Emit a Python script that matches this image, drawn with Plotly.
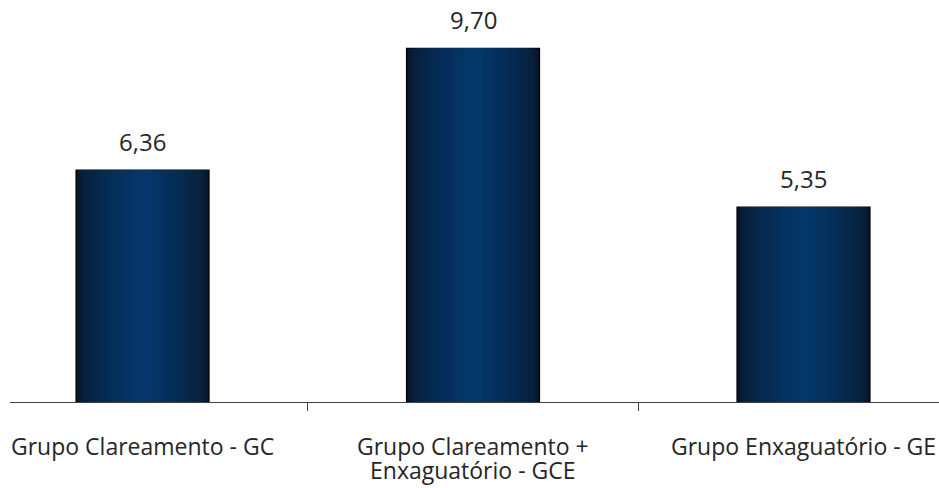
import plotly.graph_objects as go

categories = ["Grupo Clareamento - GC", "Grupo Clareamento +<br>Enxaguatório - GCE", "Grupo Enxaguatório - GE"]
values = [6.36, 9.70, 5.35]
value_labels = [f"{v:.2f}".replace(".", ",") for v in values]

FONT = "Open Sans"
TEXT_COLOR = "#262626"

edge = (8, 22, 40)
center = (4, 56, 108)
N = 24
bar_width = 0.4024

fig = go.Figure()
for j in range(N):
    f = j / N
    t = min(1.0, f ** 0.55)
    col = tuple(round(edge[k] + (center[k] - edge[k]) * t) for k in range(3))
    fig.add_trace(go.Bar(
        x=categories, y=values,
        width=bar_width * (1 - f),
        marker=dict(color="rgb(%d,%d,%d)" % col,
                    line=dict(color="#000000", width=1.2 if j == 0 else 0)),
        hoverinfo="skip" if j else "x+y",
        showlegend=False,
    ))

for c, v, lab in zip(categories, values, value_labels):
    fig.add_annotation(x=c, y=v, text=lab, showarrow=False, yanchor="bottom",
                       yshift=10, font=dict(family=FONT, size=24, color=TEXT_COLOR))

# category labels, one annotation per line so line spacing matches
for c in categories:
    for i, line in enumerate(c.split("<br>")):
        fig.add_annotation(x=c, xref="x", y=0, yref="paper", text=line, showarrow=False,
                           yanchor="middle", yshift=-(44 + 24 * i),
                           font=dict(family=FONT, size=23, color=TEXT_COLOR))

fig.update_layout(
    width=939, height=488,
    margin=dict(l=10, r=0, t=0, b=86),
    barmode="overlay",
    plot_bgcolor="white", paper_bgcolor="white",
    xaxis=dict(range=[-0.401, 2.410], showline=True, linecolor="#404040", linewidth=1.3,
               ticks="outside", tickson="boundaries", ticklen=8, tickcolor="#404040", tickwidth=1.3,
               showgrid=False, showticklabels=False, automargin=False),
    yaxis=dict(range=[0, 11.03], visible=False, showgrid=False, zeroline=False, automargin=False),
)
# remove the default page margin so the 939x488 figure fills the window exactly
fig.write_html("out.html", config={"displayModeBar": False},
               post_script="document.body.style.margin='0';document.body.style.overflow='hidden';")
